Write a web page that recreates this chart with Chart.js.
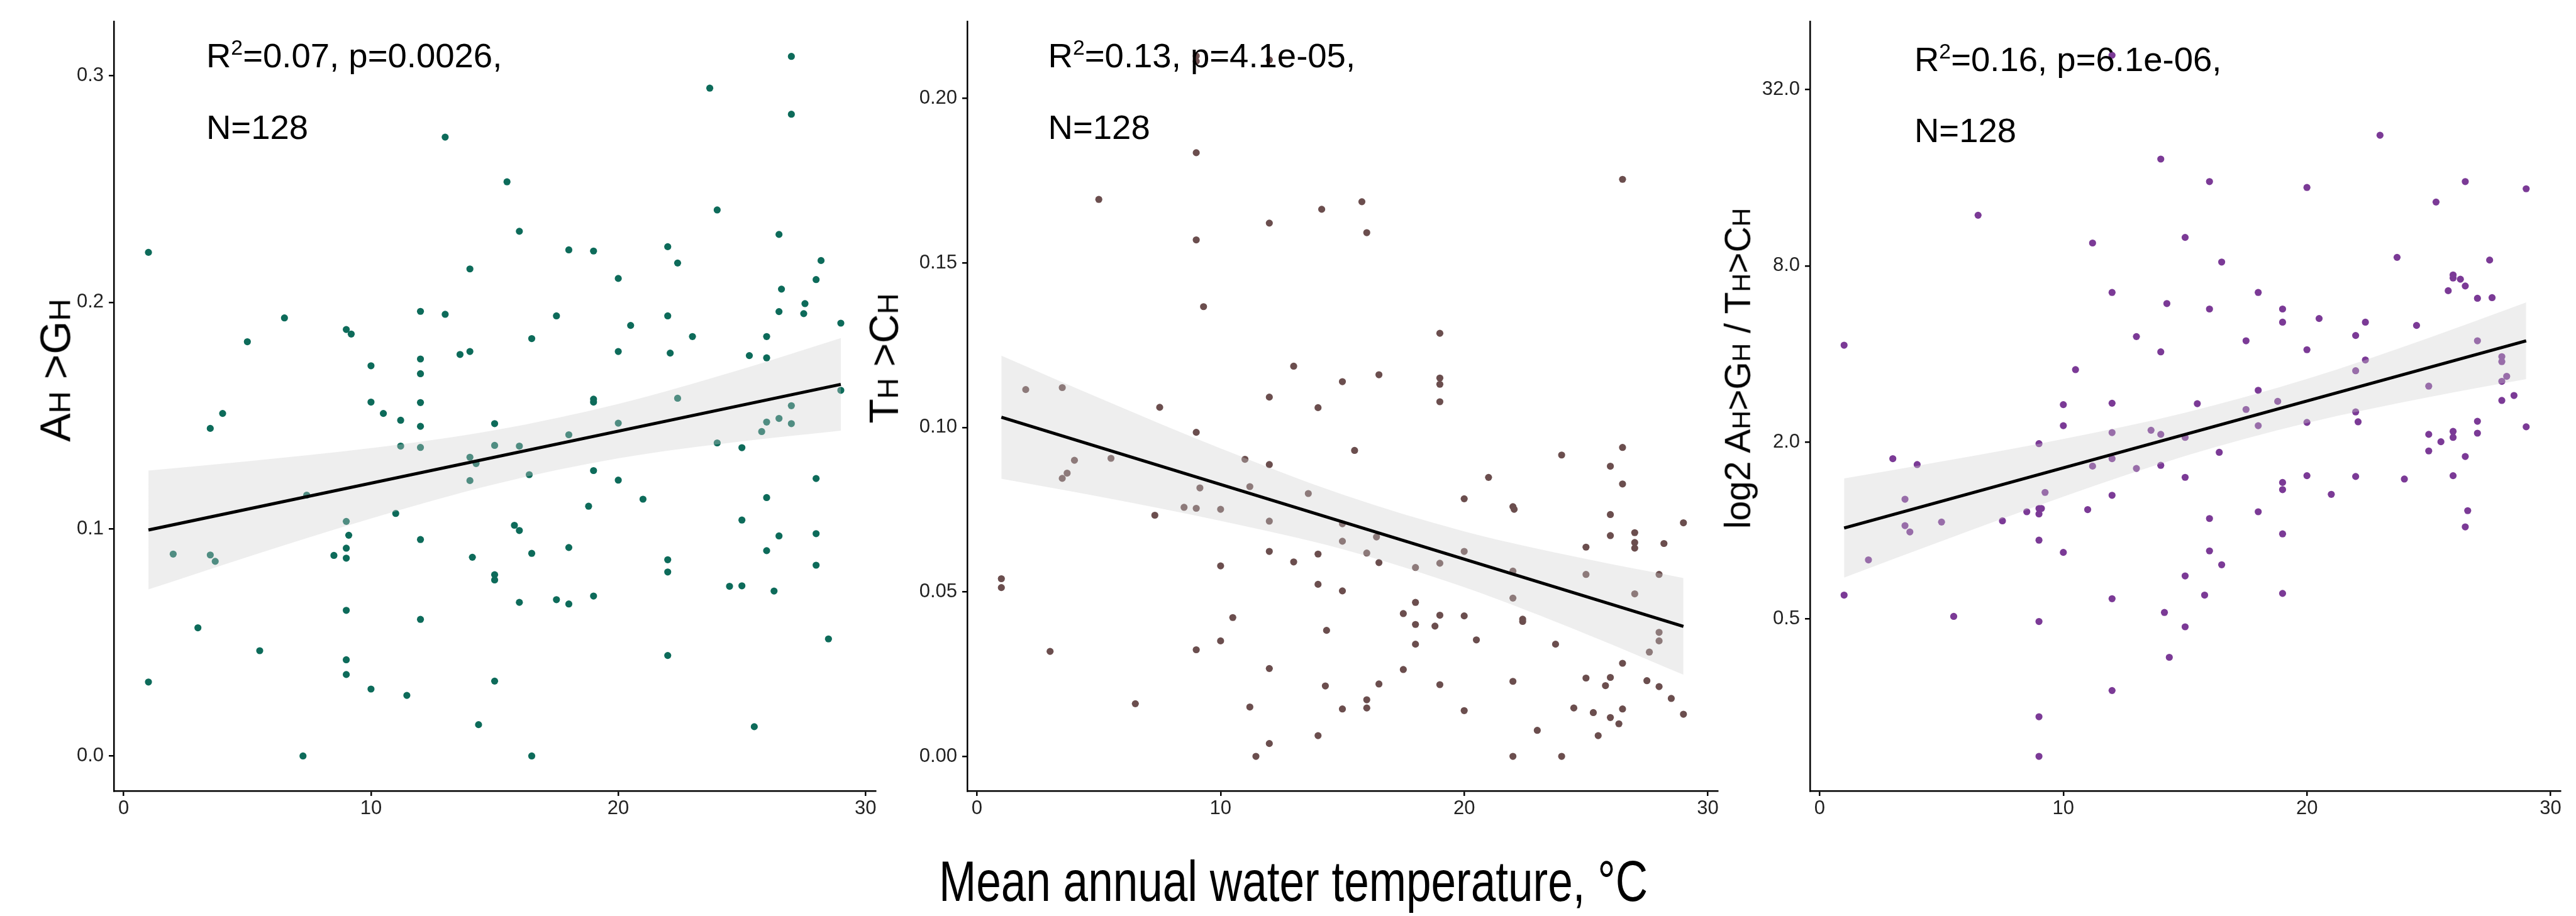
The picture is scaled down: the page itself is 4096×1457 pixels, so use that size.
<!DOCTYPE html>
<html>
<head>
<meta charset="utf-8">
<script src="https://cdn.jsdelivr.net/npm/chart.js@4.4.1/dist/chart.umd.min.js"></script>
<style>
  html, body { margin: 0; padding: 0; background: #fff; }
  body { width: 4096px; height: 1457px; position: relative; overflow: hidden;
         font-family: "Liberation Sans", Arial, Helvetica, sans-serif; color: #000; }
  canvas { position: absolute; top: 0; }
  .txt { position: absolute; white-space: nowrap; line-height: 1; }
  .sup { font-size: 0.62em; position: relative; top: -0.58em; }
  .sc { font-size: 0.72em; }
</style>
</head>
<body>
<canvas id="panelA"></canvas>
<canvas id="panelB"></canvas>
<canvas id="panelC"></canvas>
<div id="labels"></div>
<script>
// x ticks shared by the three panels
const xTicks = [0, 10, 20, 30];

// panel A : AH>GH vs temperature
const tempA = [1, 1, 2, 3, 3.5, 3.5, 3.7, 4, 5, 5.5, 6.5, 7.25, 7.4, 8.5, 9, 9.2, 9, 9, 9, 9.1,
  9, 9, 9, 10, 10, 10, 10.5, 11, 11.2, 11.2, 11.45, 12, 12, 12, 12, 12, 12, 12, 12, 13,
  13, 13.6, 14, 14, 14, 14, 14.25, 14.1, 14.35, 15, 15, 15, 15, 15, 15.5, 15.8, 16, 16, 16, 16,
  16.4, 16.5, 16.5, 16.5, 17.5, 17.5, 18, 18, 18, 18, 19, 19, 19, 19, 18.8, 19, 20, 20, 20, 20,
  20.5, 21, 22, 22, 22.1, 22, 22, 22, 22.4, 22.4, 23, 23.7, 24, 24, 24.5, 25, 25, 25, 25.3, 25.5,
  25.8, 26, 26, 26, 26, 26, 26.3, 26.5, 26.6, 26.5, 26.5, 26.5, 27, 27, 27, 27, 27.5, 27.55, 28, 28.2,
  28, 28, 28, 28.5, 29, 29];
const ratioA = [0.222, 0.0326, 0.089, 0.0565, 0.1444, 0.0886, 0.0858, 0.151, 0.1826, 0.0464, 0.1931, 0.0, 0.115, 0.0884, 0.188, 0.186, 0.1034, 0.0916, 0.0872, 0.0973,
  0.0642, 0.0424, 0.0359, 0.172, 0.156, 0.0295, 0.151, 0.1069, 0.148, 0.1366, 0.0267, 0.196, 0.175, 0.1685, 0.1558, 0.1453, 0.136, 0.0954, 0.0602, 0.2728,
  0.1947, 0.177, 0.1783, 0.2147, 0.1317, 0.1214, 0.1289, 0.0876, 0.0138, 0.1465, 0.1369, 0.0799, 0.0776, 0.033, 0.2531, 0.1017, 0.2313, 0.1366, 0.0994, 0.0677,
  0.124, 0.184, 0.0893, 0.0, 0.194, 0.0689, 0.2231, 0.1416, 0.0919, 0.067, 0.2226, 0.1573, 0.156, 0.1258, 0.1101, 0.0705, 0.2105, 0.1783, 0.1467, 0.1216,
  0.1898, 0.1132, 0.2245, 0.194, 0.1776, 0.0865, 0.0811, 0.0443, 0.2173, 0.1577, 0.1849, 0.2944, 0.2407, 0.138, 0.0748, 0.075, 0.1359, 0.104, 0.1765, 0.0129,
  0.143, 0.1849, 0.1755, 0.1472, 0.1139, 0.0905, 0.0727, 0.2299, 0.2058, 0.1959, 0.1488, 0.097, 0.3084, 0.2829, 0.1544, 0.1465, 0.195, 0.1994, 0.21, 0.2184,
  0.1223, 0.098, 0.0841, 0.0516, 0.1908, 0.1612];
const fitXA = [1, 29];
const fitYA = [0.0996, 0.1638];
const bandXA = [1, 5, 10, 15, 20, 25, 29];
const bandHiA = [0.1258, 0.1299, 0.1357, 0.1436, 0.1552, 0.1705, 0.1842];
const bandLoA = [0.0734, 0.0877, 0.1047, 0.1198, 0.1312, 0.1387, 0.1434];
const yTicksA = [0, 0.1, 0.2, 0.3];
const yLabelsA = ["0.0", "0.1", "0.2", "0.3"];

// panel B : TH>CH vs temperature
const tempB = [1, 1, 2, 3, 3.5, 3.5, 3.7, 4, 5, 5.5, 6.5, 7.3, 7.5, 8.5, 9, 9, 9, 9, 9, 9.15,
  9.3, 9, 9, 10, 10, 10, 10.5, 11, 11.2, 11.2, 11.45, 12, 12, 12, 12, 12, 12, 12, 12, 13,
  13, 13.6, 14, 14, 14, 14, 14.15, 14.35, 14.3, 15, 15, 15, 15, 15, 15.5, 15.8, 16, 16, 16, 16,
  16.4, 16.5, 16.5, 16.5, 17.5, 17.5, 18, 18, 18, 18, 18.8, 19, 19, 19, 19, 19, 19, 19, 20, 20,
  20, 20, 20.5, 21, 22, 22.05, 22, 22, 22, 22, 22.4, 22.4, 23, 23.75, 24, 24, 24.5, 25, 25, 25,
  25.3, 25.5, 25.8, 26, 26, 26, 26, 26, 26.35, 26.5, 26.5, 26.5, 26.5, 26.5, 27, 27, 27, 27, 27.5, 27.6,
  28, 28, 28, 28, 28.2, 28.5, 29, 29];
const ratioB = [0.054, 0.0513, 0.1115, 0.0319, 0.1121, 0.0845, 0.0861, 0.09, 0.1693, 0.0906, 0.016, 0.0733, 0.1061, 0.0757, 0.1835, 0.157, 0.0985, 0.0754, 0.0324, 0.0816,
  0.1367, 0.2129, 0.2113, 0.0751, 0.0579, 0.0351, 0.0422, 0.0903, 0.082, 0.015, 0.0, 0.1621, 0.1092, 0.0887, 0.0715, 0.0623, 0.0267, 0.0039, 0.2117, 0.1186,
  0.0591, 0.0799, 0.106, 0.0615, 0.0523, 0.0063, 0.1663, 0.0383, 0.0214, 0.1139, 0.0707, 0.0654, 0.0503, 0.0144, 0.093, 0.1686, 0.1592, 0.0618, 0.0172, 0.0147,
  0.0667, 0.116, 0.0589, 0.022, 0.0434, 0.0264, 0.0574, 0.0468, 0.0401, 0.0341, 0.0396, 0.1286, 0.115, 0.1131, 0.1078, 0.0587, 0.0429, 0.0218, 0.0783, 0.0623,
  0.0427, 0.0139, 0.0354, 0.0848, 0.0759, 0.0751, 0.0563, 0.0481, 0.0228, 0.0, 0.0417, 0.041, 0.0079, 0.0341, 0.0916, 0.0, 0.0147, 0.0636, 0.0553, 0.0238,
  0.0133, 0.0063, 0.0215, 0.0882, 0.0735, 0.0671, 0.024, 0.0118, 0.0099, 0.0939, 0.0828, 0.1754, 0.0283, 0.0144, 0.068, 0.065, 0.0633, 0.0494, 0.023, 0.0317,
  0.0553, 0.0377, 0.0351, 0.0212, 0.0647, 0.0176, 0.071, 0.0128];
const fitXB = [1, 29];
const fitYB = [0.1031, 0.0395];
const bandXB = [1, 5, 10, 15, 20, 25, 29];
const bandHiB = [0.1218, 0.1090, 0.0936, 0.0796, 0.0684, 0.0600, 0.0542];
const bandLoB = [0.0844, 0.0790, 0.0716, 0.0630, 0.0514, 0.0372, 0.0248];
const yTicksB = [0, 0.05, 0.1, 0.15, 0.2];
const yLabelsB = ["0.00", "0.05", "0.10", "0.15", "0.20"];

// panel C : AH>GH / TH>CH (log2 axis) vs temperature
const tempC = [1, 1, 2, 3, 3.5, 3.5, 3.7, 4, 5, 5.5, 6.5, 7.5, 8.5, 9, 9, 9, 9.1, 9, 9, 9,
  9, 9.25, 10, 10, 10, 10.5, 11, 11.2, 11.2, 12, 12, 12, 12, 12, 12, 12, 12, 13, 13, 13.6,
  14, 14, 14, 14, 14.15, 14.25, 14.35, 15, 15, 15, 15, 15, 15.5, 15.8, 16, 16, 16, 16, 16.4, 16.5,
  16.5, 17.5, 17.5, 18, 18, 18, 18, 18.8, 19, 19, 19, 19, 19, 19, 20, 20, 20, 20, 20.5, 21,
  22, 22, 22, 22.1, 22, 22.4, 22.4, 23, 23.7, 24, 24.5, 25, 25, 25, 25.3, 25.5, 25.8, 26, 26, 26,
  26, 26, 26.3, 26.5, 26.5, 26.5, 26.6, 26.5, 27, 27, 27, 27, 27.5, 27.6, 28, 28, 28, 28, 28.2, 28.5,
  29, 29];
const ratioC = [4.29, 0.603, 0.795, 1.76, 1.28, 1.04, 0.99, 1.68, 1.07, 0.51, 11.9, 1.08, 1.16, 1.98, 1.19, 1.14, 1.19, 0.928, 0.49, 0.232,
  0.17, 1.35, 2.69, 2.28, 0.843, 3.54, 1.18, 9.57, 1.66, 6.49, 2.72, 2.16, 1.76, 1.32, 0.586, 0.285, 41.8, 4.59, 1.63, 2.2,
  18.5, 4.07, 2.13, 1.67, 0.526, 5.95, 0.37, 10.0, 2.08, 1.52, 0.701, 0.47, 2.71, 0.603, 15.5, 5.7, 1.1, 0.853, 1.85, 8.24,
  0.765, 4.44, 2.59, 6.49, 3.01, 2.28, 1.16, 2.76, 5.7, 5.14, 1.46, 1.38, 0.975, 0.611, 14.8, 4.14, 2.34, 1.54, 5.29, 1.33,
  4.63, 3.51, 2.54, 2.35, 1.53, 5.14, 3.82, 22.3, 8.55, 1.5, 5.01, 3.11, 2.13, 1.87, 13.2, 2.01, 6.58, 7.45, 7.27, 2.18,
  2.08, 1.54, 7.2, 15.5, 6.83, 1.79, 1.17, 1.03, 6.2, 4.44, 2.36, 2.15, 8.37, 6.23, 3.92, 3.77, 3.23, 2.78, 3.36, 2.89,
  14.65, 2.26];
const fitXC = [1, 29];
const fitYC = [1.021, 4.44];
const bandXC = [1, 5, 10, 15, 20, 25, 29];
const bandHiC = [1.506, 1.722, 2.055, 2.525, 3.290, 4.544, 6.004];
const bandLoC = [0.692, 0.921, 1.306, 1.797, 2.329, 2.852, 3.285];
const yTicksC = [0.5, 2, 8, 32];
const yLabelsC = ["0.5", "2.0", "8.0", "32.0"];

const FONT = '"Liberation Sans", Arial, Helvetica, sans-serif';
Chart.defaults.font.family = FONT;

const toXY = (xs, ys) => xs.map((v, i) => ({ x: v, y: ys[i] }));

function makePanel(id, p) {
  const yW = 100, xH = 80, padR = 30;
  const canvas = document.getElementById(id);
  const w = Math.round(yW + (p.right - p.left) + padR);
  const h = Math.round(p.bottom + xH);
  canvas.width = w;
  canvas.height = h;
  canvas.style.width = w + "px";
  canvas.style.height = h + "px";
  canvas.style.left = (p.left - yW) + "px";

  const band = "rgba(205,205,205,0.35)";
  new Chart(canvas, {
    type: "scatter",
    data: {
      datasets: [
        { type: "line", data: toXY(p.fitX, p.fitY), borderColor: "#000", borderWidth: 5,
          pointRadius: 0, fill: false },
        { type: "line", data: toXY(p.bandX, p.bandHi), borderColor: "rgba(0,0,0,0)", borderWidth: 1,
          pointRadius: 0, fill: "+1", backgroundColor: band, cubicInterpolationMode: "monotone" },
        { type: "line", data: toXY(p.bandX, p.bandLo), borderColor: "rgba(0,0,0,0)", borderWidth: 1,
          pointRadius: 0, fill: false, cubicInterpolationMode: "monotone" },
        { data: toXY(p.x, p.y), pointRadius: 5.6, backgroundColor: p.color, borderColor: p.color,
          borderWidth: 0, pointBorderWidth: 0 }
      ]
    },
    options: {
      responsive: false,
      animation: false,
      devicePixelRatio: 1,
      events: [],
      layout: { padding: { left: 0, top: p.top, right: padR, bottom: 0 } },
      plugins: { legend: { display: false }, tooltip: { enabled: false } },
      scales: {
        x: {
          type: "linear", min: -0.4, max: 30.4,
          afterBuildTicks: s => { s.ticks = xTicks.map(v => ({ value: v })); },
          afterFit: s => { s.height = xH; },
          ticks: { font: { size: 31 }, color: "#222", padding: 2, maxRotation: 0, autoSkip: false,
                   callback: v => String(v) },
          grid: { drawOnChartArea: false, drawTicks: true, tickLength: 8, color: "#000", lineWidth: 2.5 },
          border: { display: true, color: "#000", width: 2.5 }
        },
        y: {
          type: p.log ? "logarithmic" : "linear", min: p.ymin, max: p.ymax,
          afterBuildTicks: s => { s.ticks = p.yTicks.map(v => ({ value: v })); },
          afterFit: s => { s.width = yW; },
          ticks: { font: { size: 31 }, color: "#222", padding: 8, autoSkip: false,
                   callback: (v, i) => p.yLabels[i] },
          grid: { drawOnChartArea: false, drawTicks: true, tickLength: 8, color: "#000", lineWidth: 2.5 },
          border: { display: true, color: "#000", width: 2.5 }
        }
      }
    }
  });
}

const TOP = 34.1, BOTTOM = 1258.3;
makePanel("panelA", { left: 180.8, right: 1391.7, top: TOP, bottom: BOTTOM,
  x: tempA, y: ratioA, fitX: fitXA, fitY: fitYA, bandX: bandXA, bandHi: bandHiA, bandLo: bandLoA,
  ymin: -0.0154, ymax: 0.3238, yTicks: yTicksA, yLabels: yLabelsA, color: "#0d6b5a" });
makePanel("panelB", { left: 1538.3, right: 2731.5, top: TOP, bottom: BOTTOM,
  x: tempB, y: ratioB, fitX: fitXB, fitY: fitYB, bandX: bandXB, bandHi: bandHiB, bandLo: bandLoB,
  ymin: -0.0105, ymax: 0.2234, yTicks: yTicksB, yLabels: yLabelsB, color: "#6b4e4e" });
makePanel("panelC", { left: 2877.7, right: 4070.7, top: TOP, bottom: BOTTOM,
  x: tempC, y: ratioC, fitX: fitXC, fitY: fitYC, bandX: bandXC, bandHi: bandHiC, bandLo: bandLoC,
  log: true, ymin: 0.1296, ymax: 54.5, yTicks: yTicksC, yLabels: yLabelsC, color: "#7b3a96" });

// texts: stats, y titles, shared x title
const labels = document.getElementById("labels");
function addText(html, size, left, baseline, squeeze) {
  const d = document.createElement("div");
  d.className = "txt";
  d.style.fontSize = size + "px";
  d.style.left = left + "px";
  d.style.top = (baseline - 0.8465 * size) + "px";
  if (squeeze) {
    d.style.transformOrigin = "0 0";
    d.style.transform = "scaleX(" + squeeze + ")";
  }
  d.innerHTML = html;
  labels.appendChild(d);
}
function addYTitle(html, size, baselineX, centerY) {
  const d = document.createElement("div");
  d.className = "txt";
  d.style.fontSize = size + "px";
  d.style.left = "0px";
  d.style.top = "0px";
  d.style.transformOrigin = "0 0";
  d.style.transform = "translate(" + baselineX + "px," + centerY + "px) rotate(-90deg) translate(-50%," +
    (-0.8465 * size) + "px)";
  d.innerHTML = html;
  labels.appendChild(d);
}

addText('R<span class="sup">2</span>=0.07, p=0.0026,', 54.5, 328, 108);
addText("N=128", 54.5, 328, 222);
addText('R<span class="sup">2</span>=0.13, p=4.1e-05,', 54.5, 1666.6, 108);
addText("N=128", 54.5, 1666.6, 222);
addText('R<span class="sup">2</span>=0.16, p=6.1e-06,', 54.5, 3044, 114);
addText("N=128", 54.5, 3044, 227);

addYTitle('A<span class="sc">H</span> &gt;G<span class="sc">H</span>', 68, 111, 589);
addYTitle('T<span class="sc">H</span> &gt;C<span class="sc">H</span>', 64, 1428, 570);
addYTitle('log2 A<span class="sc">H</span>&gt;G<span class="sc">H</span> / T<span class="sc">H</span>&gt;C<span class="sc">H</span>', 57, 2783, 586);

addText("Mean annual water temperature, °C", 90, 1493, 1433, 0.79);
</script>
</body>
</html>
